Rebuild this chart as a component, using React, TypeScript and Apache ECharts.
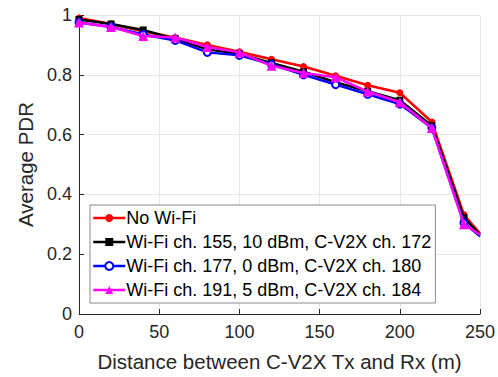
import React, { useEffect, useRef } from "react";
import * as echarts from "echarts";

// Distance between transmitter and receiver (m)
const distances = [0, 20, 40, 60, 80, 100, 120, 140, 160, 180, 200, 220, 240, 250];

// Average PDR for each configuration
const noWifi = [0.99, 0.97, 0.945, 0.925, 0.9, 0.877, 0.852, 0.828, 0.797, 0.765, 0.74, 0.642, 0.332, 0.27];
const wifi155 = [0.985, 0.97, 0.95, 0.92, 0.885, 0.87, 0.84, 0.81, 0.775, 0.745, 0.715, 0.63, 0.322, 0.265];
const wifi177 = [0.975, 0.96, 0.935, 0.915, 0.875, 0.865, 0.835, 0.8, 0.767, 0.735, 0.702, 0.622, 0.305, 0.26];
const wifi191 = [0.975, 0.96, 0.93, 0.925, 0.893, 0.875, 0.83, 0.806, 0.792, 0.744, 0.708, 0.622, 0.3, 0.265];

const seriesNames = [
  "No Wi-Fi",
  "Wi-Fi ch. 155, 10 dBm, C-V2X ch. 172",
  "Wi-Fi ch. 177, 0 dBm, C-V2X ch. 180",
  "Wi-Fi ch. 191, 5 dBm, C-V2X ch. 184",
];

const xTicks = [0, 50, 100, 150, 200, 250];
const yTicks = [0, 0.2, 0.4, 0.6, 0.8, 1];

const FONT = "'Liberation Sans', Arial, Helvetica, sans-serif";
const AXIS_TEXT = "#262626";

type Style = { color: string; symbol: string; size: number; hollow: boolean };
const styles: Style[] = [
  { color: "#ff0000", symbol: "circle", size: 7, hollow: false },
  { color: "#000000", symbol: "rect", size: 7, hollow: false },
  { color: "#0000ff", symbol: "circle", size: 7, hollow: true },
  { color: "#ff00ff", symbol: "triangle", size: 10, hollow: false },
];

const markerStyle = (s: Style) =>
  s.hollow
    ? { color: "#ffffff", borderColor: s.color, borderWidth: 2 }
    : { color: s.color, borderColor: s.color, borderWidth: 0 };

export default function App() {
  const ref = useRef<HTMLDivElement>(null);

  useEffect(() => {
    if (!ref.current) return;
    const chart = echarts.init(ref.current, undefined, { renderer: "svg" });

    const pairs = (ys: number[]) =>
      distances.map((d, i) =>
        i === distances.length - 1
          ? { value: [d, ys[i]], symbol: "none" }
          : { value: [d, ys[i]] }
      );

    const allValues = [noWifi, wifi155, wifi177, wifi191];

    chart.setOption({
      animation: false,
      backgroundColor: "#ffffff",
      textStyle: { fontFamily: FONT },
      grid: { left: 79, right: 15, top: 15, bottom: 62, containLabel: false },
      legend: {
        orient: "vertical",
        left: 90,
        top: 205,
        padding: [4, 4, 4, 2],
        itemGap: 6,
        itemWidth: 32,
        itemHeight: 10,
        backgroundColor: "#ffffff",
        borderColor: "#8a8a8a",
        borderWidth: 1,
        borderRadius: 0,
        textStyle: { fontSize: 18, color: "#000000", fontFamily: FONT, padding: [0, 0, 0, -4] },
        data: seriesNames.map((n, i) => ({
          name: n,
          itemStyle: markerStyle(styles[i]),
          lineStyle: { color: styles[i].color, width: 2.5, type: "solid" },
        })),
      },
      xAxis: {
        type: "value",
        min: xTicks[0],
        max: xTicks[xTicks.length - 1],
        interval: 50,
        name: "Distance between C-V2X Tx and Rx (m)",
        nameLocation: "middle",
        nameGap: 37,
        nameTextStyle: { fontSize: 20.5, color: AXIS_TEXT, fontFamily: FONT },
        axisLine: { show: true, lineStyle: { color: "#262626", width: 1 } },
        axisTick: { show: true, inside: true, length: 5, lineStyle: { color: "#262626" } },
        axisLabel: { fontSize: 18, color: AXIS_TEXT, margin: 9, fontFamily: FONT },
        splitLine: { show: true, lineStyle: { color: "#e6e6e6", width: 1 } },
      },
      yAxis: {
        type: "value",
        min: yTicks[0],
        max: yTicks[yTicks.length - 1],
        interval: 0.2,
        name: "Average PDR",
        nameLocation: "middle",
        nameGap: 42,
        nameTextStyle: { fontSize: 20.5, color: AXIS_TEXT, fontFamily: FONT },
        axisLine: { show: true, lineStyle: { color: "#262626", width: 1 } },
        axisTick: { show: true, inside: true, length: 5, lineStyle: { color: "#262626" } },
        axisLabel: { fontSize: 18, color: AXIS_TEXT, margin: 7, fontFamily: FONT },
        splitLine: { show: true, lineStyle: { color: "#e6e6e6", width: 1 } },
      },
      series: seriesNames.map((name, i) => ({
        name,
        type: "line",
        data: pairs(allValues[i]),
        symbol: styles[i].symbol,
        symbolSize: styles[i].size,
        showAllSymbol: true,
        z: 2 + i,
        lineStyle: { color: styles[i].color, width: 2.5 },
        itemStyle: markerStyle(styles[i]),
        emphasis: { disabled: true },
      })),
    });

    return () => chart.dispose();
  }, []);

  return (
    <div
      ref={ref}
      style={{ position: "fixed", left: 0, top: 0, width: 498, height: 377 }}
    />
  );
}
